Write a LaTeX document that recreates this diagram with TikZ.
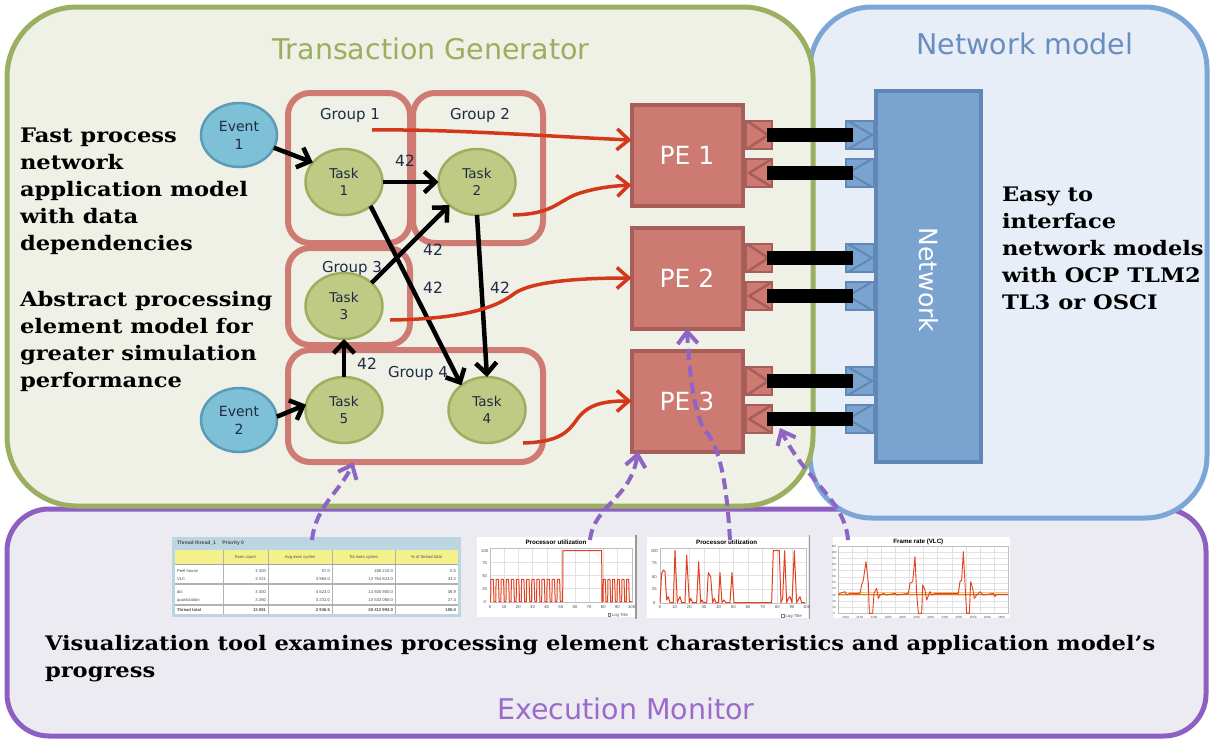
\documentclass[tikz,border=0pt]{standalone}
\usepackage{fontspec}
\setmainfont{DejaVu Sans}
\newfontfamily\serfam{DejaVu Serif}[FakeStretch=1.13]
\newfontfamily\arialfam{Liberation Sans}
\usetikzlibrary{arrows.meta,shapes.geometric}
\definecolor{tgfill}{HTML}{EFF0E6}
\definecolor{tgline}{HTML}{9BAF60}
\definecolor{tgtext}{HTML}{9AAE5E}
\definecolor{nmfill}{HTML}{E7EEF8}
\definecolor{nmline}{HTML}{7BA6D6}
\definecolor{nmtext}{HTML}{6A8DBE}
\definecolor{emfill}{HTML}{ECEBF2}
\definecolor{emline}{HTML}{8E5FC2}
\definecolor{emtext}{HTML}{9A6BCB}
\definecolor{grpline}{HTML}{CF7B73}
\definecolor{pefill}{HTML}{CC7A72}
\definecolor{peline}{HTML}{A85E58}
\definecolor{evfill}{HTML}{7EC0D6}
\definecolor{evline}{HTML}{5B9BB8}
\definecolor{tkfill}{HTML}{BFCB85}
\definecolor{tkline}{HTML}{9EAE5F}
\definecolor{txtdark}{HTML}{1F2A44}
\definecolor{redarr}{HTML}{D4381A}
\definecolor{purarr}{HTML}{8D65C5}
\definecolor{netfill}{HTML}{7BA3D0}
\definecolor{netline}{HTML}{5F88B6}
\definecolor{tblblue}{HTML}{BCD5E3}
\definecolor{tblyellow}{HTML}{F4F08C}
\definecolor{chred}{HTML}{E2401E}
\definecolor{chorange}{HTML}{F26A1B}
\definecolor{chyellow}{HTML}{F7C65A}
\definecolor{gridgray}{HTML}{E2E2E2}
\begin{document}
\begin{tikzpicture}[x=1pt,y=-1pt,
  every node/.style={inner sep=0pt,outer sep=0pt},
  container/.style={line width=5pt},
  title/.style={font=\fontsize{28.5}{30}\selectfont},
  prose/.style={font=\serfam\bfseries\fontsize{20}{27}\selectfont,align=left,anchor=north west,text=black},
  event/.style={ellipse,draw=evline,fill=evfill,line width=2.5pt,minimum width=76pt,minimum height=64pt,align=center,font=\fontsize{14}{18}\selectfont,text=txtdark},
  task/.style={ellipse,draw=tkline,fill=tkfill,line width=2.5pt,minimum width=77pt,minimum height=66pt,align=center,font=\fontsize{13.5}{17}\selectfont,text=txtdark},
  grp/.style={draw=grpline,line width=6pt,rounded corners=22pt},
  grplabel/.style={font=\fontsize{15}{16}\selectfont,text=txtdark},
  numlab/.style={font=\fontsize{15.5}{16}\selectfont,text=txtdark},
  dep/.style={line width=4.5pt,-{Straight Barb[length=11pt,width=21pt]}},
  pe/.style={draw=peline,fill=pefill,line width=4pt,minimum width=111pt,minimum height=101pt,text=white,font=\fontsize{25}{26}\selectfont},
  peport/.style={draw=peline,fill=pefill,line width=2.5pt,minimum width=26pt,minimum height=28pt},
  netport/.style={draw=netline,fill=netfill,line width=2.5pt,minimum width=28pt,minimum height=28pt},
  bar/.style={line width=14pt,black},
  flow/.style={redarr,line width=3.5pt,-{Straight Barb[length=12pt,width=21pt]}},
  mon/.style={purarr,line width=4pt,dash pattern=on 11pt off 6pt,-{Straight Barb[length=12pt,width=20pt]}},
  tiny/.style={font=\arialfam\fontsize{4.2}{5}\selectfont,text=black!70},
  ctitle/.style={font=\arialfam\bfseries\fontsize{6.2}{7}\selectfont},
]
\useasboundingbox (0,0) rectangle (1212,740);
\fill[white] (0,0) rectangle (1212,740);

% containers
\draw[container,draw=emline,fill=emfill,rounded corners=42pt] (7,509) rectangle (1206,736);
\draw[container,draw=nmline,fill=nmfill,rounded corners=62pt] (810,7) rectangle (1207,518);
\draw[container,draw=tgline,fill=tgfill,rounded corners=70pt] (7,7) rectangle (813,506);

\node[title,text=tgtext] (tgt) at (431,49) {Transaction Generator};
\node[title,text=nmtext] (nmt) at (1025,44) {Network model};
\node[title,text=emtext] (emt) at (626,709) {Execution Monitor};

% prose
\node[prose] (txa) at (20,128) {Fast process\\network\\application model\\with data\\dependencies};
\node[prose] (txb) at (20,291) {Abstract processing\\element model for\\greater simulation\\performance};
\node[prose] (txc) at (1002,187) {Easy to\\interface\\network models\\with OCP TLM2\\TL3 or OSCI};
\node[prose] (txd) at (45,635) {Visualization tool examines processing element charasteristics and application model’s\\progress};

% groups
\node[grp,minimum width=122pt,minimum height=150pt] (g1) at (349,168) {};
\node[grp,minimum width=130pt,minimum height=150pt] (g2) at (478,168) {};
\node[grp,minimum width=122pt,minimum height=97pt] (g3) at (349,296.5) {};
\node[grp,minimum width=255pt,minimum height=112pt] (g4) at (415.5,406) {};
\node[grplabel] (g1l) at (350,115) {Group 1};
\node[grplabel] (g2l) at (480,115) {Group 2};
\node[grplabel] (g3l) at (352,268) {Group 3};
\node[grplabel] (g4l) at (418,373) {Group 4};

% events and tasks
\node[event] (e1) at (239,135) {Event\\1};
\node[event] (e2) at (239,420) {Event\\2};
\node[task] (t1) at (344,182) {Task\\1};
\node[task] (t2) at (477,182) {Task\\2};
\node[task] (t3) at (344,306) {Task\\3};
\node[task] (t4) at (487,410) {Task\\4};
\node[task] (t5) at (344,410) {Task\\5};

\draw[dep] (e1.-20) -- (t1.148);
\draw[dep] (t1) -- (t2);
\draw[dep] (t3.40) -- (t2.-140);
\draw[dep] (t1.-42) -- (t4.136);
\draw[dep] (t2.south) -- (t4.north);
\draw[dep] (t5) -- (t3);
\draw[dep] (e2.5) -- (t5.172);

\node[numlab] (l12) at (405,161) {42};
\node[numlab] (l32) at (433,250) {42};
\node[numlab] (l14) at (433,288) {42};
\node[numlab] (l24) at (500,288) {42};
\node[numlab] (l53) at (367,364) {42};

% processing elements
\node[pe] (pe1) at (687,155) {PE 1};
\node[pe] (pe2) at (687,278) {PE 2};
\node[pe] (pe3) at (687,401) {PE 3};

% network block
\node[draw=netline,fill=netfill,line width=4pt,minimum width=105pt,minimum height=371pt] (net) at (928.5,276.5) {};
\node[rotate=-90,text=white,font=\fontsize{25}{26}\selectfont] (netl) at (929,280) {Network};

\foreach \k/\c in {1/155,2/278,3/401}{
  \node[peport] (p\k a) at (759,\c-20) {};
  \node[peport] (p\k b) at (759,\c+18) {};
  \draw[peline,line width=2.5pt,line join=round] ([xshift=1pt]p\k a.north west) -- ([xshift=-4pt]p\k a.east) -- ([xshift=1pt]p\k a.south west);
  \draw[peline,line width=2.5pt,line join=round] (p\k b.north east) -- ([xshift=3pt]p\k b.west) -- (p\k b.south east);
  \node[netport] (n\k a) at (860,\c-20) {};
  \node[netport] (n\k b) at (860,\c+18) {};
  \draw[netline,line width=2pt] ([xshift=2pt]n\k a.north west) -- ([xshift=-2pt]n\k a.east) -- ([xshift=2pt]n\k a.south west);
  \draw[netline,line width=2pt] ([xshift=-2pt]n\k b.north east) -- ([xshift=2pt]n\k b.west) -- ([xshift=-2pt]n\k b.south east);
  \draw[bar,shorten <=-5pt,shorten >=-7pt] (p\k a.east) -- (n\k a.west);
  \draw[bar,shorten <=-5pt,shorten >=-7pt] (p\k b.east) -- (n\k b.west);
}

% red flows
\coordinate (r1s) at (372,130);
\coordinate (r2s) at (513,215);
\coordinate (r3s) at (390,320);
\coordinate (r4s) at (523,443);
\draw[flow] (r1s) .. controls (450,129) and (540,136) .. ([yshift=15pt]pe1.west);
\draw[flow] (r2s) .. controls (555,214) and (558,200) .. (580,193) .. controls (600,187) and (615,186) .. ([yshift=-30pt]pe1.west);
\draw[flow] (r3s) .. controls (470,319) and (500,305) .. (515,293) .. controls (535,280) and (590,278) .. (pe2.west);
\draw[flow] (r4s) .. controls (560,442) and (568,432) .. (578,418) .. controls (590,402) and (610,401) .. (pe3.west);

% table
\fill[tblblue] (172,537) rectangle (461,617);
\fill[white] (175,550) rectangle (458,614);
\fill[tblyellow] (175,550) rectangle (458,564);
\node[font=\arialfam\bfseries\fontsize{5}{6}\selectfont,text=black!70,anchor=west] (tbh) at (177,543) {Thread thread\_1 \quad Priority 0};
\foreach \x in {223,268,332,395} \draw[gray!60,line width=0.5pt] (\x,550) -- (\x,614);
\draw[gray!70,line width=1pt] (175,564) -- (458,564);
\draw[gray!60,line width=1.2pt] (175,584) -- (458,584);
\draw[gray!60,line width=1.2pt] (175,605) -- (458,605);
\node[tiny] (th1) at (245.5,557) {Exec count};
\node[tiny] (th2) at (300,557) {Avg exec cycles};
\node[tiny] (th3) at (363.5,557) {Tot exec cycles};
\node[tiny] (th4) at (426.5,557) {\% of thread total};
\foreach \r/\y/\a/\b/\c/\d/\e in {1/571/Peel house/3 300/57.0/188 210.0/0.5,2/579/VLC/3 221/3 963.0/12 764 823.0/33.2,3/592/dct/3 300/4 523.0/14 925 900.0/38.9,4/600/quantization/3 260/3 231.0/10 533 060.0/27.4}{
  \node[tiny,anchor=west] (tr\r-a) at (177,\y) {\a};
  \node[tiny,anchor=east] (tr\r-b) at (266,\y) {\b};
  \node[tiny,anchor=east] (tr\r-c) at (330,\y) {\c};
  \node[tiny,anchor=east] (tr\r-d) at (393,\y) {\d};
  \node[tiny,anchor=east] (tr\r-e) at (456,\y) {\e};
}
\node[tiny,font=\arialfam\bfseries\fontsize{4.2}{5}\selectfont,anchor=west] (tt-a) at (177,610) {Thread total};
\node[tiny,font=\arialfam\bfseries\fontsize{4.2}{5}\selectfont,anchor=east] (tt-b) at (266,610) {13 081};
\node[tiny,font=\arialfam\bfseries\fontsize{4.2}{5}\selectfont,anchor=east] (tt-c) at (330,610) {2 936.5};
\node[tiny,font=\arialfam\bfseries\fontsize{4.2}{5}\selectfont,anchor=east] (tt-d) at (393,610) {38 412 993.0};
\node[tiny,font=\arialfam\bfseries\fontsize{4.2}{5}\selectfont,anchor=east] (tt-e) at (456,610) {100.0};

% chart 1
\begin{scope}[shift={(470,530)},x=0.3333pt,y=-0.3333pt]
 \fill[white] (20,20) rectangle (495,262);
 \draw[gray!80,line width=1.2pt] (498,15) -- (498,268);
 \node[ctitle] (c1t) at (258,36) {Processor utilization};
 \foreach \i in {1,...,9} \draw[gridgray,line width=0.3pt] ({60+42.5*\i},55) -- ({60+42.5*\i},215);
 \foreach \j in {1,2,3} \draw[gridgray,line width=0.3pt] (60,{55+40*\j}) -- (485,{55+40*\j});
 \draw[gray!50,line width=0.3pt] (60,55) rectangle (485,215);
 \foreach \v/\yy in {100/62,75/100,50/138,25/177,0/215} \node[tiny] (c1y\v) at (44,\yy) {\v};
 \foreach \v [count=\i from 0] in {0,10,...,100} \node[tiny] (c1x\v) at ({60+42.5*\i},230) {\v};
 \draw[chred,line width=1pt,line join=round] (60,215) \foreach \i in {0,...,13}{ -- ({62+15.3*\i},215) -- ({63+15.3*\i},148) -- ({70+15.3*\i},148) -- ({72+15.3*\i},215)} -- (278,215) -- (279,62) -- (395,62) -- (396,215) \foreach \i in {0,...,5}{ -- ({399+14*\i},215) -- ({400+14*\i},148) -- ({406+14*\i},148) -- ({408+14*\i},215)} -- (485,215);
 \draw[gray,line width=0.4pt] (414,251) rectangle (422,259);
 \node[tiny,anchor=west] (c1log) at (426,255) {Log Title};
\end{scope}

% chart 2
\begin{scope}[shift={(470,530)},x=0.3333pt,y=-0.3333pt]
 \fill[white] (530,20) rectangle (1015,265);
 \draw[gray!80,line width=1.2pt] (1018,15) -- (1018,268);
 \node[ctitle] (c2t) at (770,36) {Processor utilization};
 \foreach \i in {1,...,9} \draw[gridgray,line width=0.3pt] ({570+44*\i},55) -- ({570+44*\i},218);
 \foreach \j in {1,2,3} \draw[gridgray,line width=0.3pt] (570,{55+40.75*\j}) -- (1010,{55+40.75*\j});
 \draw[gray!50,line width=0.3pt] (570,55) rectangle (1010,218);
 \foreach \v/\yy in {100/62,75/100,50/140,25/178,0/218} \node[tiny] (c2y\v) at (553,\yy) {\v};
 \foreach \v [count=\i from 0] in {0,10,...,100} \node[tiny] (c2x\v) at ({570+44*\i},232) {\v};
 \draw[chred,line width=1pt,line join=round] (570,218) -- (575,130) -- (580,120) -- (585,125) -- (590,210) -- (595,200) -- (600,218) -- (610,218) -- (615,62) -- (622,218) -- (625,210) -- (630,200) -- (635,218) -- (645,218) -- (650,75) -- (658,218) -- (662,205) -- (668,218) -- (680,218) -- (686,95) -- (692,218) -- (696,210) -- (700,218) -- (710,218) -- (715,128) -- (722,140) -- (728,218) -- (733,205) -- (738,218) -- (745,218) -- (750,128) -- (756,218) -- (762,210) -- (768,218) -- (780,218) -- (786,128) -- (792,218) -- (905,218) -- (910,62) -- (928,62) -- (933,218) -- (938,205) -- (944,62) -- (950,218) -- (955,205) -- (960,200) -- (966,218) -- (973,62) -- (980,218) -- (990,200) -- (995,218) -- (1005,218);
 \draw[gray,line width=0.4pt] (935,254) rectangle (943,262);
 \node[tiny,anchor=west] (c2log) at (947,258) {Log Title};
\end{scope}

% chart 3
\begin{scope}[shift={(820,530)},x=0.3333pt,y=-0.3333pt]
 \fill[white] (40,20) rectangle (570,265);
 \node[ctitle] (c3t) at (295,36) {Frame rate (VLC)};
 \foreach \i in {1,...,11} \draw[gridgray,line width=0.3pt] ({55+42.5*\i},48) -- ({55+42.5*\i},250);
 \foreach \j in {1,...,10} \draw[gridgray,line width=0.3pt] (55,{48+18.4*\j}) -- (565,{48+18.4*\j});
 \draw[gray!50,line width=0.3pt] (55,48) rectangle (565,250);
 \foreach \v [count=\j from 0] in {110,100,90,80,70,60,50,40,30,20,10,0} \node[tiny,font=\arialfam\fontsize{3}{4}\selectfont] (c3y\v) at (42,{48+18.4*\j}) {\v};
 \foreach \v [count=\i from 0] in {2100,2150,2200,2250,2300,2350,2400,2450,2500,2550,2600,2650} \node[tiny,font=\arialfam\fontsize{3}{4}\selectfont] (c3x\v) at ({77+42.5*\i},262) {\v};
 \draw[chyellow,line width=1.3pt] (55,188) -- (565,188);
 \draw[chorange,line width=1.6pt] (55,193) -- (565,193);
 \draw[chred,line width=0.9pt,line join=round] (55,195) -- (60,190) -- (75,185) -- (80,195) -- (90,190) -- (120,190) -- (125,165) -- (130,150) -- (138,95) -- (145,160) -- (148,250) -- (158,250) -- (162,190) -- (170,175) -- (175,205) -- (180,195) -- (190,190) -- (200,195) -- (225,190) -- (230,195) -- (265,190) -- (270,160) -- (278,155) -- (285,80) -- (290,190) -- (295,250) -- (305,250) -- (308,165) -- (315,180) -- (320,210) -- (330,185) -- (335,195) -- (345,190) -- (415,190) -- (420,155) -- (425,150) -- (430,65) -- (435,160) -- (440,250) -- (448,250) -- (452,155) -- (458,175) -- (463,205) -- (470,195) -- (480,185) -- (490,195) -- (520,190) -- (525,200) -- (530,193) -- (565,193);
\end{scope}

% monitor arrows
\coordinate (m1s) at (312,540);
\coordinate (m2s) at (590,540);
\coordinate (m3s) at (730,540);
\coordinate (m4s) at (848,540);
\coordinate (m4e) at (780,428);
\draw[mon] (m1s) .. controls (316,505) and (340,492) .. ([xshift=-62pt]g4.south);
\draw[mon] (m2s) .. controls (594,505) and (630,500) .. ([xshift=-49pt]pe3.south);
\draw[mon] (m3s) .. controls (727,490) and (722,455) .. (708,434) .. controls (698,425) and (690,390) .. (pe2.south);
\draw[mon] (m4s) .. controls (845,500) and (805,480) .. (m4e);
\end{tikzpicture}
\end{document}
